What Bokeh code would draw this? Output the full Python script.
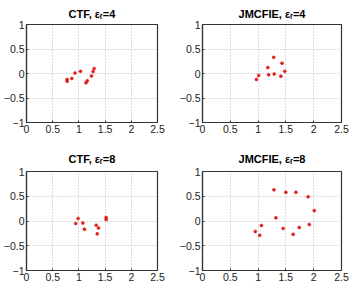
from bokeh.plotting import figure
from bokeh.layouts import column, row
from bokeh.models import FixedTicker, Range1d
from bokeh.embed import file_html
from bokeh.resources import INLINE

titles = ["CTF, εᵣ=4", "JMCFIE, εᵣ=4", "CTF, εᵣ=8", "JMCFIE, εᵣ=8"]

ctf4_x = [0.775, 0.775, 0.865, 0.925, 1.03, 1.135, 1.16, 1.24, 1.27, 1.29]
ctf4_y = [-0.12, -0.16, -0.10, 0.01, 0.045, -0.19, -0.15, -0.05, 0.04, 0.10]

jm4_x = [0.97, 1.01, 1.175, 1.19, 1.28, 1.29, 1.41, 1.43, 1.48]
jm4_y = [-0.12, -0.04, 0.12, -0.025, 0.33, -0.01, -0.055, 0.21, 0.045]

ctf8_x = [0.94, 0.985, 1.075, 1.105, 1.33, 1.375, 1.35, 1.52, 1.52]
ctf8_y = [-0.05, 0.05, -0.04, -0.165, -0.085, -0.14, -0.26, 0.03, 0.07]

jm8_x = [1.285, 1.50, 1.68, 1.90, 2.01, 1.32, 1.06, 0.95, 1.03, 1.45, 1.74, 1.63, 1.92]
jm8_y = [0.63, 0.58, 0.58, 0.49, 0.21, 0.065, -0.09, -0.21, -0.29, -0.15, -0.13, -0.27, -0.07]

x_ticks = [0, 0.5, 1, 1.5, 2, 2.5]
x_labels = ["0", "0.5", "1", "1.5", "2", "2.5"]
y_ticks = [-1, -0.5, 0, 0.5, 1]
y_labels = ["−1", "−0.5", "0", "0.5", "1"]

FONT = "Liberation Sans"


def make(title, xs, ys, w, h, bl, br, bt, bb, standoff):
    p = figure(width=w, height=h, output_backend="svg", toolbar_location=None,
               x_range=Range1d(0, 2.5), y_range=Range1d(-1, 1),
               min_border_left=bl, min_border_right=br,
               min_border_top=bt, min_border_bottom=bb,
               background_fill_color="white", border_fill_color="white")
    p.title.text = title
    p.title.align = "center"
    p.title.text_font = FONT
    p.title.text_font_size = "11px"
    p.title.text_font_style = "bold"
    p.title.text_color = "#000000"
    p.title.standoff = standoff
    p.outline_line_color = "#333333"
    p.outline_line_width = 1.2
    p.outline_line_alpha = 1
    for ax, ticks, labels in ((p.xaxis[0], x_ticks, x_labels), (p.yaxis[0], y_ticks, y_labels)):
        ax.ticker = FixedTicker(ticks=ticks)
        ax.major_label_overrides = {t: l for t, l in zip(ticks, labels)}
        ax.major_label_text_font = FONT
        ax.major_label_text_font_size = "10.5px"
        ax.major_label_text_color = "#222222"
        ax.major_label_standoff = 2
        ax.major_tick_in = 2
        ax.major_tick_out = 0
        ax.minor_tick_line_color = None
        ax.axis_line_color = "#333333"
        ax.axis_line_width = 1.2
        ax.major_tick_line_color = "#333333"
    p.grid.grid_line_color = "#b8b8b8"
    p.grid.grid_line_dash = "1 2"
    p.grid.grid_line_width = 1
    p.xgrid.ticker = FixedTicker(ticks=x_ticks)
    p.ygrid.ticker = FixedTicker(ticks=y_ticks)
    p.scatter(xs, ys, size=3, marker="circle", fill_color="#e8201e", line_color="#d01010", line_width=0.5)
    return p


p1 = make(titles[0], ctf4_x, ctf4_y, 175, 143, 18, 18, 23, 21, 10)
p2 = make(titles[1], jm4_x, jm4_y, 176, 143, 27, 10, 23, 21, 10)
p3 = make(titles[2], ctf8_x, ctf8_y, 175, 143, 18, 18, 28, 16, 14)
p4 = make(titles[3], jm8_x, jm8_y, 176, 143, 27, 10, 28, 16, 14)

layout = column(row(p1, p2), row(p3, p4))
open("out.html", "w").write(file_html(layout, INLINE))
